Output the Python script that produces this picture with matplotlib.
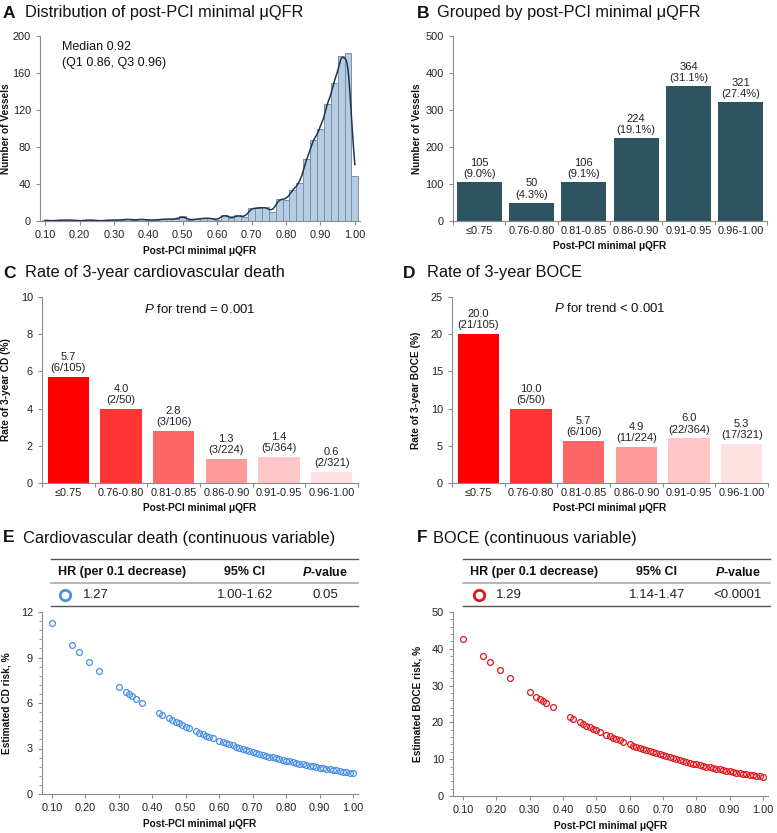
import numpy as np
import matplotlib
matplotlib.use("Agg")
import matplotlib.pyplot as plt
from matplotlib.lines import Line2D
from matplotlib.ticker import MultipleLocator, FixedLocator

plt.rcParams['font.family'] = ['Liberation Sans', 'DejaVu Sans']
plt.rcParams['mathtext.fontset'] = 'custom'
plt.rcParams['mathtext.rm'] = 'Liberation Sans'
plt.rcParams['mathtext.it'] = 'Liberation Sans:italic'
plt.rcParams['mathtext.bf'] = 'Liberation Sans:bold:italic'

# ---- data ----
# A: histogram of post-PCI minimal uQFR, bins of 0.02 centred at 0.10 ... 1.00
hist_centers = [0.10, 0.12, 0.14, 0.16, 0.18, 0.20, 0.22, 0.24, 0.26, 0.28,
                0.30, 0.32, 0.34, 0.36, 0.38, 0.40, 0.42, 0.44, 0.46, 0.48,
                0.50, 0.52, 0.54, 0.56, 0.58, 0.60, 0.62, 0.64, 0.66, 0.68,
                0.70, 0.72, 0.74, 0.76, 0.78, 0.80, 0.82, 0.84, 0.86, 0.88,
                0.90, 0.92, 0.94, 0.96, 0.98, 1.00]
hist_counts = [1, 0, 1, 1, 1, 0, 1, 1, 0, 1,
               1, 1, 2, 1, 2, 1, 1, 2, 2, 2,
               5, 1, 2, 3, 3, 1, 7, 3, 6, 4,
               14, 14, 15, 10, 24, 23, 34, 41, 67, 88,
               100, 126, 149, 178, 182, 49]

groups = ['≤0.75', '0.76-0.80', '0.81-0.85', '0.86-0.90', '0.91-0.95', '0.96-1.00']
vessels = [105, 50, 106, 224, 364, 321]
vessel_pct = [9.0, 4.3, 9.1, 19.1, 31.1, 27.4]

cd_rate = [5.7, 4.0, 2.8, 1.3, 1.4, 0.6]
cd_events = ['6/105', '2/50', '3/106', '3/224', '5/364', '2/321']
boce_rate = [20.0, 10.0, 5.7, 4.9, 6.0, 5.3]
boce_events = ['21/105', '5/50', '6/106', '11/224', '22/364', '17/321']

risk_x = [0.10, 0.16, 0.18, 0.21, 0.24, 0.30, 0.32, 0.33, 0.34, 0.35, 0.37,
          0.42, 0.43, 0.45, 0.46, 0.47, 0.48, 0.49, 0.50, 0.51,
          0.53, 0.54, 0.55, 0.56, 0.57, 0.58,
          0.60, 0.61, 0.62, 0.63, 0.64, 0.65, 0.66, 0.67, 0.68, 0.69,
          0.70, 0.71, 0.72, 0.73, 0.74, 0.75, 0.76, 0.77, 0.78, 0.79,
          0.80, 0.81, 0.82, 0.83, 0.84, 0.85, 0.86, 0.87, 0.88, 0.89,
          0.90, 0.91, 0.92, 0.93, 0.94, 0.95, 0.96, 0.97, 0.98, 0.99, 1.00]
cd_risk = [11.28, 9.80, 9.36, 8.72, 8.13, 7.07, 6.75, 6.59, 6.44, 6.29, 6.01,
           5.34, 5.22, 4.98, 4.87, 4.75, 4.65, 4.54, 4.43, 4.33,
           4.13, 4.04, 3.95, 3.85, 3.77, 3.68,
           3.51, 3.43, 3.35, 3.27, 3.20, 3.12, 3.05, 2.98, 2.91, 2.85,
           2.78, 2.72, 2.65, 2.59, 2.53, 2.47, 2.42, 2.36, 2.31, 2.25,
           2.20, 2.15, 2.10, 2.05, 2.01, 1.96, 1.91, 1.87, 1.83, 1.78,
           1.74, 1.70, 1.66, 1.63, 1.59, 1.55, 1.52, 1.48, 1.45, 1.41, 1.38]
boce_risk = [42.73, 37.92, 36.39, 34.19, 32.09, 28.18, 26.96, 26.37, 25.79, 25.21, 24.10,
             21.50, 21.01, 20.06, 19.60, 19.15, 18.70, 18.27, 17.84, 17.43,
             16.62, 16.23, 15.85, 15.47, 15.11, 14.75,
             14.05, 13.72, 13.39, 13.07, 12.76, 12.45, 12.15, 11.86, 11.57, 11.29,
             11.02, 10.75, 10.49, 10.23, 9.98, 9.74, 9.50, 9.27, 9.04, 8.82,
             8.60, 8.39, 8.18, 7.98, 7.78, 7.59, 7.40, 7.22, 7.04, 6.87,
             6.70, 6.53, 6.37, 6.21, 6.05, 5.90, 5.75, 5.61, 5.47, 5.33, 5.20]

cd_table = ['1.27', '1.00-1.62', '0.05']
boce_table = ['1.29', '1.14-1.47', '<0.0001']

red_shades = ['#fe0000', '#ff3434', '#ff6666', '#ff9a9a', '#ffc7c7', '#ffe1e1']
bar_dark = '#2f5461'
blue = '#4a8fe2'
red = '#e2141c'

W, H = 777, 833
fig = plt.figure(figsize=(W / 100, H / 100), dpi=100)


def ax_at(l, t, r, b):
    # pixel box -> figure axes
    return fig.add_axes([l / W, 1 - b / H, (r - l) / W, (b - t) / H])


def fx(px):
    return px / W


def fy(py):
    return 1 - py / H


def style(ax):
    for s in ['top', 'right']:
        ax.spines[s].set_visible(False)
    for s in ['left', 'bottom']:
        ax.spines[s].set_color('#8c8c8c')
        ax.spines[s].set_linewidth(0.8)
    ax.tick_params(colors='#8c8c8c', labelcolor='#222222', labelsize=7.9,
                   length=3, width=0.8)
    ax.tick_params(which='minor', colors='#8c8c8c', length=2, width=0.6)


def panel_title(x_letter, x_text, y, letter, text):
    fig.text(fx(x_letter), fy(y), letter, fontsize=12.5, fontweight='bold',
             va='center', color='#111111')
    fig.text(fx(x_text), fy(y), text, fontsize=11.8, va='center', color='#111111')


lab_kw = dict(fontsize=7.3, fontweight='bold', color='#111111')

# ---- A: histogram ----
axA = ax_at(40, 36, 360, 221)
style(axA)
axA.bar(hist_centers, hist_counts, width=0.02, color='#b5cce5',
        edgecolor='#7d90a6', linewidth=0.7)
# smoothed density of the same counts, scaled to counts per bin
grid = np.linspace(0.10, 1.00, 500)
c = np.array(hist_centers)
w = np.array(hist_counts, dtype=float)
bw = 0.011
dens = (w[None, :] * np.exp(-0.5 * ((grid[:, None] - c[None, :]) / bw) ** 2)).sum(1)
dens = dens / (bw * np.sqrt(2 * np.pi)) * 0.02
axA.plot(grid, dens, color='#1f3550', lw=1.1)
axA.set_xlim(0.085, 1.015)
axA.set_ylim(0, 200)
axA.set_yticks([0, 40, 80, 120, 160, 200])
axA.set_xticks(np.arange(0.1, 1.001, 0.1))
axA.set_xticklabels(['%.2f' % v for v in np.arange(0.1, 1.001, 0.1)])
axA.set_ylabel('Number of Vessels', **lab_kw)
axA.set_xlabel('Post-PCI minimal μQFR', labelpad=4, **lab_kw)
axA.yaxis.set_label_coords(-0.092, 0.5)
axA.text(0.07, 0.975, 'Median 0.92\n(Q1 0.86, Q3 0.96)', transform=axA.transAxes,
         va='top', ha='left', fontsize=9, linespacing=1.45, color='#111111')
panel_title(3, 25, 13, 'A', 'Distribution of post-PCI minimal μQFR')

pos = np.arange(len(groups))


def cat_axis(ax):
    ax.set_xlim(-0.5, 5.5)
    ax.set_xticks(pos)
    ax.set_xticklabels(groups)
    ax.tick_params(axis='x', which='major', length=0)
    ax.xaxis.set_minor_locator(FixedLocator(np.arange(-0.5, 5.6, 1.0)))
    ax.tick_params(axis='x', which='minor', length=3, width=0.8)
    ax.set_xlabel('Post-PCI minimal μQFR', labelpad=4, **lab_kw)


# ---- B: grouped counts ----
axB = ax_at(453, 36, 767, 221)
style(axB)
axB.bar(pos, vessels, width=0.86, color=bar_dark)
for i, (v, p) in enumerate(zip(vessels, vessel_pct)):
    axB.text(i, v + 8, '%d\n(%.1f%%)' % (v, p), ha='center', va='bottom',
             fontsize=8, linespacing=1.15, color='#222222')
axB.set_ylim(0, 500)
axB.set_yticks(range(0, 501, 100))
cat_axis(axB)
axB.set_ylabel('Number of Vessels', **lab_kw)
axB.yaxis.set_label_coords(-0.1, 0.5)
panel_title(417, 437, 13, 'B', 'Grouped by post-PCI minimal μQFR')

# ---- C: CD rate ----
axC = ax_at(42, 297, 358, 483)
style(axC)
axC.bar(pos, cd_rate, width=0.78, color=red_shades)
for i, (v, e) in enumerate(zip(cd_rate, cd_events)):
    axC.text(i, v + 0.2, '%.1f\n(%s)' % (v, e), ha='center', va='bottom',
             fontsize=8, linespacing=1.15, color='#222222')
axC.set_ylim(0, 10)
axC.set_yticks(range(0, 11, 2))
cat_axis(axC)
axC.set_ylabel('Rate of 3-year CD (%)', **lab_kw)
axC.yaxis.set_label_coords(-0.098, 0.5)
axC.text(2.5, 9.35, r'$\mathit{P}$ for trend = 0.001', ha='center', va='center',
         fontsize=9.5, color='#111111')
panel_title(3, 25, 273, 'C', 'Rate of 3-year cardiovascular death')

# ---- D: BOCE rate ----
axD = ax_at(452, 297, 768, 483)
style(axD)
axD.bar(pos, boce_rate, width=0.78, color=red_shades)
for i, (v, e) in enumerate(zip(boce_rate, boce_events)):
    axD.text(i, v + 0.5, '%.1f\n(%s)' % (v, e), ha='center', va='bottom',
             fontsize=8, linespacing=1.15, color='#222222')
axD.set_ylim(0, 25)
axD.set_yticks(range(0, 26, 5))
cat_axis(axD)
axD.set_ylabel('Rate of 3-year BOCE (%)', **lab_kw)
axD.yaxis.set_label_coords(-0.098, 0.5)
axD.text(2.5, 23.4, r'$\mathit{P}$ for trend < 0.001', ha='center', va='center',
         fontsize=9.5, color='#111111')
panel_title(403, 427, 273, 'D', 'Rate of 3-year BOCE')


# ---- E / F: estimated risk ----
def risk_panel(box, y, color, ymax, major, minor, ylabel):
    ax = ax_at(*box)
    style(ax)
    ax.plot(risk_x, y, 'o', mfc='none', mec=color, mew=0.9, ms=4.2)
    ax.set_xlim(0.07, 1.015)
    ax.set_ylim(0, ymax)
    ax.yaxis.set_major_locator(MultipleLocator(major))
    ax.yaxis.set_minor_locator(MultipleLocator(minor))
    ax.set_xticks(np.arange(0.1, 1.001, 0.1))
    ax.set_xticklabels(['%.2f' % v for v in np.arange(0.1, 1.001, 0.1)])
    ax.set_ylabel(ylabel, **lab_kw)
    ax.yaxis.set_label_coords(-0.098, 0.5)
    ax.set_xlabel('Post-PCI minimal μQFR', labelpad=4, **lab_kw)
    return ax


def hr_table(x0, x1, x_hr, x_ci, x_p, x_mark, x_val, vals, color):
    for yy, col, lw in [(559, '#555555', 1.0), (583, '#aaaaaa', 1.2), (606, '#555555', 1.0)]:
        fig.add_artist(Line2D([fx(x0), fx(x1)], [fy(yy), fy(yy)], color=col, lw=lw))
    fig.text(fx(x_hr), fy(572), 'HR (per 0.1 decrease)', fontsize=9,
             fontweight='bold', va='center', color='#111111')
    fig.text(fx(x_ci), fy(572), '95% CI', fontsize=9, fontweight='bold',
             va='center', ha='center', color='#111111')
    fig.text(fx(x_p), fy(572), r'$\mathbf{P}$-value', fontsize=9, fontweight='bold',
             va='center', ha='center', color='#111111')
    fig.add_artist(Line2D([fx(x_mark)], [fy(595)], marker='o', mfc='none',
                          mec=color, mew=2.0, ms=7.5))
    fig.text(fx(x_val), fy(595), vals[0], fontsize=9.5, va='center', color='#222222')
    fig.text(fx(x_ci), fy(595), vals[1], fontsize=9.5, va='center', ha='center',
             color='#222222')
    fig.text(fx(x_p), fy(595), vals[2], fontsize=9.5, va='center', ha='center',
             color='#222222')


risk_panel((42, 612, 358, 794), cd_risk, blue, 12, 3, 0.6, 'Estimated CD risk, %')
hr_table(51, 358, 58, 245, 325, 65, 83, cd_table, blue)
panel_title(3, 23, 538, 'E', 'Cardiovascular death (continuous variable)')

risk_panel((453, 612, 768, 796), boce_risk, red, 50, 10, 2, 'Estimated BOCE risk, %')
hr_table(463, 770, 470, 657, 738, 479, 496, boce_table, red)
panel_title(417, 433, 538, 'F', 'BOCE (continuous variable)')

fig.savefig('out.png', dpi=100)
